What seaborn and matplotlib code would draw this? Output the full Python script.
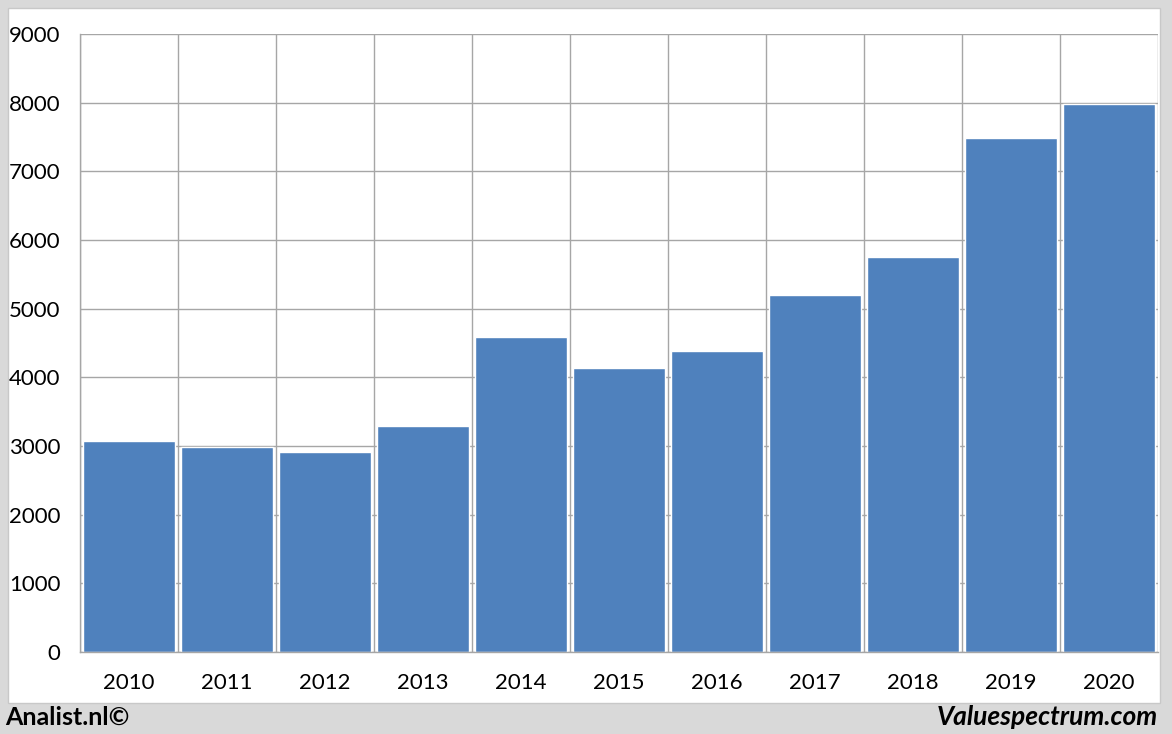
import matplotlib
matplotlib.use("Agg")
import matplotlib.pyplot as plt
import seaborn as sns
import pandas as pd
import numpy as np
from matplotlib.patches import Rectangle
from matplotlib.ticker import FixedLocator

years = ["2010", "2011", "2012", "2013", "2014", "2015", "2016", "2017", "2018", "2019", "2020"]
values = [3070, 2985, 2912, 3290, 4585, 4135, 4380, 5200, 5750, 7490, 7975]
y_ticks = [0, 1000, 2000, 3000, 4000, 5000, 6000, 7000, 8000, 9000]

sns.set_style("white")
plt.rcParams['font.family'] = ['Lato', 'DejaVu Sans']

W, H = 1172, 734
fig = plt.figure(figsize=(W / 100, H / 100), dpi=100)
fig.patch.set_facecolor('#d9d9d9')
bg = Rectangle((8 / W, 1 - 703 / H), (1160 - 8) / W, (703 - 8) / H,
               transform=fig.transFigure, facecolor='white',
               edgecolor='#c8c8c8', linewidth=1, zorder=-10)
fig.patches.append(bg)

ax = fig.add_axes([80 / W, 1 - 652 / H, (1158 - 80) / W, (652 - 34) / H])
ax.set_zorder(5)
ax.set_facecolor('none')

df = pd.DataFrame({"year": years, "value": values})
sns.barplot(data=df, x="year", y="value", color='#4f81bd', saturation=1,
            width=0.93, edgecolor='white', linewidth=1, ax=ax, zorder=2)

ax.set_xlim(-0.5, len(years) - 0.5)
ax.set_ylim(0, 9000)
ax.set_yticks(y_ticks)
ax.set_yticklabels([str(v) for v in y_ticks])
ax.xaxis.set_minor_locator(FixedLocator(np.arange(-0.5, len(years), 1.0)))
ax.set_xlabel("")
ax.set_ylabel("")

gc = '#a6a6a6'
ax.set_axisbelow(True)
ax.grid(axis='y', which='major', color=gc, linewidth=1)
ax.grid(axis='x', which='minor', color=gc, linewidth=1)
ax.grid(axis='x', which='major', visible=False)

ax.tick_params(axis='x', which='major', length=0, pad=15, labelsize=16, labelcolor='black')
ax.tick_params(axis='x', which='minor', length=8, color=gc, width=1)
ax.tick_params(axis='y', which='major', length=8, color=gc, width=1, pad=6, labelsize=16, labelcolor='black')

for s in ['top', 'right']:
    ax.spines[s].set_visible(False)
for s in ['left', 'bottom']:
    ax.spines[s].set_color(gc)
    ax.spines[s].set_linewidth(1)

fig.text(5 / W, 1 - 717 / H, "Analist.nl©", fontsize=18, fontweight='bold',
         ha='left', va='center', color='black')
fig.text(1158 / W, 1 - 717 / H, "Valuespectrum.com", fontsize=19, fontweight='bold',
         fontstyle='italic', ha='right', va='center', color='black')

fig.savefig("out.png", dpi=100, facecolor=fig.get_facecolor())
